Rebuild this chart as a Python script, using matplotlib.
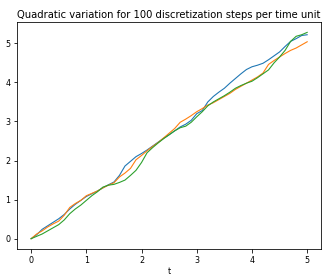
import numpy as np
import matplotlib
matplotlib.use("Agg")
import matplotlib.pyplot as plt

# time grid (read every 0.1 time unit)
t = np.arange(0, 51) / 10.0

qv_1 = [0.0, 0.1, 0.24, 0.33, 0.42, 0.51, 0.62, 0.76, 0.88, 0.98,
        1.08, 1.15, 1.22, 1.30, 1.38, 1.45, 1.62, 1.86, 1.98, 2.10,
        2.18, 2.27, 2.37, 2.47, 2.57, 2.66, 2.76, 2.86, 2.93, 3.03,
        3.20, 3.28, 3.50, 3.64, 3.75, 3.85, 3.98, 4.10, 4.22, 4.33,
        4.40, 4.44, 4.49, 4.58, 4.68, 4.78, 4.92, 5.05, 5.12, 5.20,
        5.22]
qv_2 = [0.0, 0.12, 0.20, 0.30, 0.38, 0.45, 0.60, 0.80, 0.90, 0.98,
        1.10, 1.16, 1.22, 1.30, 1.37, 1.43, 1.58, 1.68, 1.80, 2.02,
        2.13, 2.25, 2.36, 2.46, 2.58, 2.70, 2.82, 2.98, 3.06, 3.15,
        3.25, 3.33, 3.42, 3.48, 3.56, 3.64, 3.72, 3.82, 3.90, 3.98,
        4.06, 4.14, 4.24, 4.46, 4.56, 4.65, 4.74, 4.82, 4.88, 4.96,
        5.04]
qv_3 = [0.0, 0.06, 0.12, 0.20, 0.28, 0.36, 0.48, 0.64, 0.76, 0.86,
        0.98, 1.10, 1.20, 1.32, 1.37, 1.39, 1.44, 1.50, 1.62, 1.75,
        1.95, 2.20, 2.33, 2.45, 2.56, 2.66, 2.76, 2.84, 2.88, 2.98,
        3.12, 3.25, 3.40, 3.50, 3.58, 3.66, 3.75, 3.85, 3.92, 3.98,
        4.03, 4.12, 4.22, 4.32, 4.50, 4.65, 4.82, 5.05, 5.18, 5.22,
        5.28]

plt.rcParams['xtick.labelsize'] = 8
plt.rcParams['ytick.labelsize'] = 8

fig = plt.figure(figsize=(4.5, 276 / 72), dpi=72)
ax = fig.add_axes([0.0534, 0.0978, 0.9373, 0.8222])

ax.plot(t, qv_1, lw=1.1)
ax.plot(t, qv_2, lw=1.1)
ax.plot(t, qv_3, lw=1.1)

ax.set_title("Quadratic variation for 100 discretization steps per time unit",
             fontsize=10, pad=4)
ax.set_xlabel("t", fontsize=8, labelpad=2)

fig.savefig("out.png", dpi=72)
